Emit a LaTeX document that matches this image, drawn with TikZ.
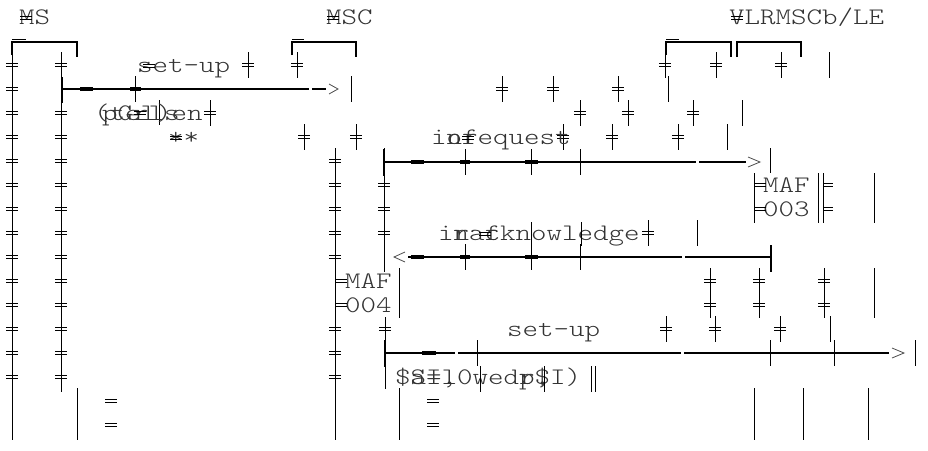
\documentclass[tikz,border=0pt]{standalone}
\usepackage{fontspec}
\setmonofont[FakeStretch=1.245]{lmmonolt10-regular.otf}
\newcommand{\chartfont}{\ttfamily\fontsize{23.7}{28}\selectfont}
% one lifeline cell: bar with double tick
\newcommand{\tk}[2]{\draw[lifeln] (#1,#2-13) -- (#1,#2+13) (#1-6,#2-1.7) -- (#1+6,#2-1.7) (#1-6,#2+1.7) -- (#1+6,#2+1.7);}
\newcommand{\dbl}[2]{\draw[lifeln] (#1-6,#2-1.7) -- (#1+6,#2-1.7) (#1-6,#2+1.7) -- (#1+6,#2+1.7);}
\newcommand{\vbar}[2]{\draw[lifeln] (#1,#2-13) -- (#1,#2+13);}
\begin{document}
\begin{tikzpicture}[x=1pt,y=-1pt,
  every node/.style={font=\chartfont, text=black!80, inner sep=0pt, anchor=base west},
  lifeln/.style={black, line width=0.9pt},
  msgln/.style={black, line width=1.8pt},
  brk/.style={black, line width=2.2pt},
  headln/.style={black!70, line width=0.8pt}]
\useasboundingbox (0,0) rectangle (928,450);

% instance heads
\node (msname) at (19,24) {MS};
\node (mscname) at (326,24) {MSC};
\node (vlrname) at (729,24) {VLRMSCb/LE};
\dbl{26}{18} \dbl{333}{18} \dbl{737}{18}
\draw[brk] (12,55) |- (77,42) -- (77,57);
\draw[brk] (292,55) |- (356,42) -- (356,57);
\draw[brk] (666,55) |- (731,42) -- (731,57);
\draw[brk] (737,57) |- (801,42) -- (801,57);
\draw[black, line width=1.6pt] (12,39.5) -- (26,39.5) (292,39.5) -- (304,39.5) (666,39.5) -- (679,39.5);

% lifelines
\draw[lifeln] (12,42) -- (12,440);
\draw[lifeln] (61,52) -- (61,392);
\draw[lifeln] (335,148) -- (335,440);
\draw[lifeln] (384,148) -- (384,272);
\draw[lifeln] (385,317) -- (385,389);
\draw[lifeln] (399,268) -- (399,318) (399,388) -- (399,440);
\draw[lifeln] (77,388) -- (77,440);
\foreach \y in {65,89,113,137,161,185,209,233,257,281,305,329,353,377} {\dbl{12}{\y}}
\foreach \y in {65,113,137,161,185,209,233,257,281,305,329,353,377} {\dbl{61}{\y}}
\foreach \y in {161,185,209,233,257,329,353,377} {\dbl{335}{\y}}
\foreach \y in {185,209,233} {\dbl{384}{\y}}
\dbl{385}{329}
\foreach \y in {401,425} {\dbl{111}{\y} \dbl{433}{\y}}

% loose cells
\foreach \x in {248,297,665,716,781} {\tk{\x}{65}}
\vbar{829}{65}
\foreach \x in {502,553,618} {\tk{\x}{89}}
\vbar{668}{89}
\foreach \x in {210,580,628,693} {\tk{\x}{113}}
\vbar{742}{113}
\draw[lifeln] (159,100) -- (159,125);
\foreach \x in {304,356,563,612,678} {\tk{\x}{137}}
\vbar{727}{137}
\tk{648}{233}
\vbar{697}{233}
\foreach \y in {281,305} {\tk{710}{\y} \tk{759}{\y} \tk{824}{\y}}
\draw[lifeln] (874,268) -- (874,318);
\foreach \x in {666,715,780} {\tk{\x}{329}}
\vbar{830}{329}
\draw[lifeln] (754,388) -- (754,440) (803,388) -- (803,440) (868,388) -- (868,440);

% message texts
\node (setupa) at (137,72) {set-up};
\dbl{149}{66}
\node (paraa) at (94,120) {(tel)en};
\node (parab) at (102,120) {pGrls};
\dbl{140}{113}
\node (stars) at (168,144) {**};
\dbl{176}{138}
\node (reqa) at (431,144) {inrequest};
\node (reqb) at (431,144) {\ of};
\dbl{468}{138}
\node (acka) at (438,240) {inacknowledge};
\node (ackb) at (438,240) {\ r f};
\dbl{485}{234}
\draw[lifeln] (531,222) -- (531,246) (581,222) -- (581,246);
\node (setupb) at (507,336) {set-up};
\node (paraca) at (395,384) {\$SI,0wedr\$I)};
\node (paracb) at (395,384) {\ a=l\ \ \ \ p,};
\draw[lifeln] (480,366) -- (480,392) (544,366) -- (544,392) (591,366) -- (591,392) (595,366) -- (595,392);

% MAF boxes
\node (maf3a) at (763,192) {MAF};
\node (maf3b) at (763,216) {003};
\draw[lifeln] (754,173) -- (754,223) (818,173) -- (818,223) (823,173) -- (823,223) (874,173) -- (874,223);
\draw[lifeln] (754,183.5) -- (766,183.5) (754,186.5) -- (766,186.5) (754,207.5) -- (766,207.5) (754,210.5) -- (766,210.5);
\draw[lifeln] (823,183.5) -- (833,183.5) (823,186.5) -- (833,186.5) (823,207.5) -- (833,207.5) (823,210.5) -- (833,210.5);
\node (maf4a) at (345,288) {MAF};
\node (maf4b) at (345,312) {004};
\draw[lifeln] (335,279.5) -- (347,279.5) (335,282.5) -- (347,282.5) (335,303.5) -- (347,303.5) (335,306.5) -- (347,306.5);

% messages
\coordinate (m1s) at (62,89);
\coordinate (m1e) at (326,89);
\draw[msgln] (m1s) -- (309,89) (312,89) -- (m1e);
\draw[brk] (62,77) -- (62,103);
\draw[black, line width=3.4pt] (80,89) -- (93,89) (130,89) -- (141,89);
\vbar{135}{89}
\draw[headln] (329,84) -- (338,89) -- (329,94);
\vbar{351}{89}

\coordinate (m2s) at (384,162);
\coordinate (m2e) at (746,162);
\draw[msgln] (m2s) -- (696,162) (699,162) -- (m2e);
\draw[brk] (384,149) -- (384,176);
\draw[black, line width=3.4pt] (411,162) -- (424,162) (460,162) -- (470,162) (525,162) -- (538,162);
\vbar{465}{162} \vbar{531}{162} \vbar{580}{162}
\draw[headln] (748,157) -- (760,162) -- (748,167);
\draw[lifeln] (770,148) -- (770,173);

\coordinate (m3s) at (771,257);
\coordinate (m3e) at (408,257);
\draw[msgln] (m3s) -- (685,257) (682,257) -- (m3e);
\draw[brk] (771,245) -- (771,272);
\draw[black, line width=3.4pt] (411,257) -- (424,257) (460,257) -- (470,257) (525,257) -- (538,257);
\vbar{465}{257} \vbar{531}{257} \vbar{580}{257}
\draw[headln] (405,252) -- (394,257) -- (405,262);

\coordinate (m4s) at (385,353);
\coordinate (m4e) at (889,353);
\draw[msgln] (m4s) -- (455,353) (458,353) -- (681,353) (684,353) -- (m4e);
\draw[brk] (385,340) -- (385,367);
\draw[black, line width=3.4pt] (422,353) -- (436,353);
\vbar{477}{353} \vbar{770}{353} \vbar{834}{353}
\draw[headln] (892,348) -- (904,353) -- (892,358);
\vbar{915}{353}
\end{tikzpicture}
\end{document}
